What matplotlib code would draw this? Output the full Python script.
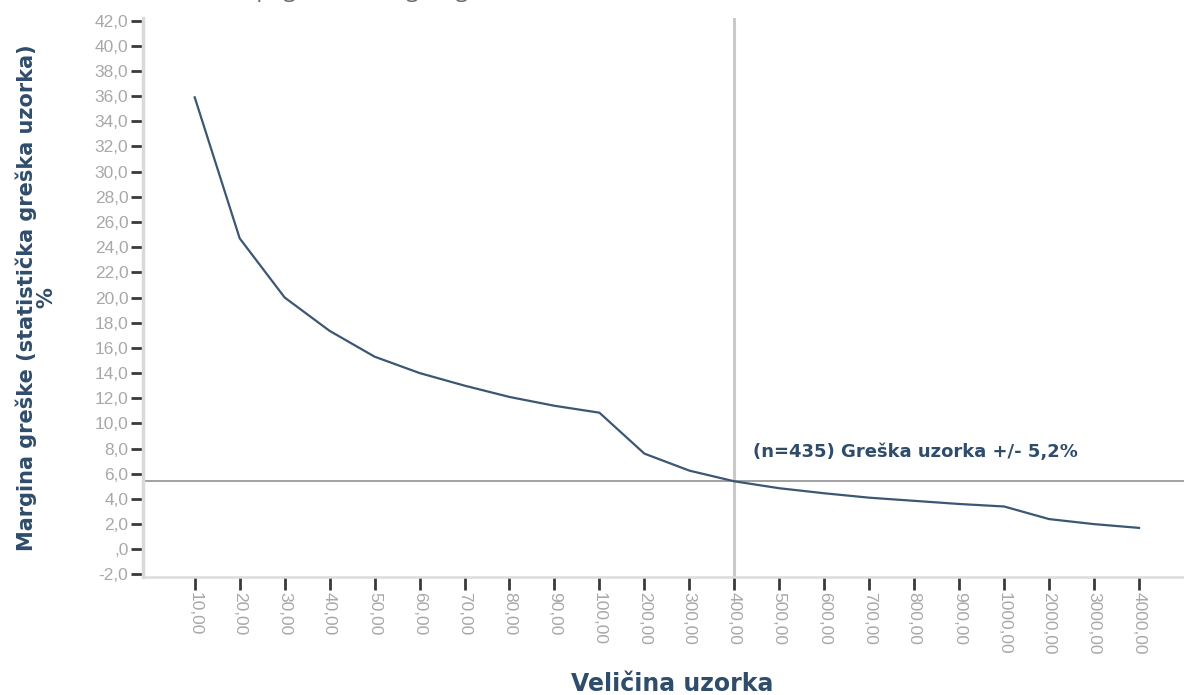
import numpy as np
import matplotlib.pyplot as plt

# sample sizes (categorical axis) and margin of error in %
sizes = ["10,00", "20,00", "30,00", "40,00", "50,00", "60,00", "70,00", "80,00",
         "90,00", "100,00", "200,00", "300,00", "400,00", "500,00", "600,00",
         "700,00", "800,00", "900,00", "1000,00", "2000,00", "3000,00", "4000,00"]
margin = [35.9, 24.7, 20.0, 17.35, 15.3, 14.0, 13.0, 12.1, 11.4, 10.85, 7.6,
          6.25, 5.4, 4.85, 4.45, 4.1, 3.85, 3.6, 3.4, 2.4, 2.0, 1.7]

yticks = np.arange(-2, 43, 2)
ref_index = 12      # 400 -> n=435
ref_margin = 5.4

navy = "#2f4c6b"
line_col = "#3b5773"
grey_txt = "#a8a8a8"

fig = plt.figure(figsize=(11.84, 6.95), dpi=100)
ax = fig.add_axes([143 / 1184, 1 - 577 / 695, 1 - 143 / 1184, (577 - 18) / 695])

x = np.arange(len(sizes))
ax.plot(x, margin, color=line_col, lw=1.6, zorder=3)
ax.axvline(ref_index, color="#c9c9c9", lw=2.2, zorder=2)
ax.axhline(ref_margin, color="#9a9a9a", lw=1.3, zorder=2)

ax.text(ref_index + 0.42, ref_margin + 2.35, "(n=435) Greška uzorka +/- 5,2%",
        color=navy, fontsize=13, fontweight="bold", family="DejaVu Sans",
        va="center", ha="left")

ax.set_xlim(-1.15, 22)
ax.set_ylim(-2.2, 42.2)

ax.set_yticks(yticks)
ylabels = [("%.1f" % v).replace(".", ",") for v in yticks]
ylabels = [",0" if v == 0 else s for v, s in zip(yticks, ylabels)]
ax.set_yticklabels(ylabels, family="Liberation Sans", fontsize=12.5, color=grey_txt)
ax.set_xticks(x)
ax.set_xticklabels(sizes, rotation=270, family="Liberation Sans",
                   fontsize=12.5, color=grey_txt, va="top", ha="center")

ax.tick_params(axis="both", direction="out", color="#3a3a3a", width=2.0, length=9)
ax.tick_params(axis="y", pad=1.5)
ax.tick_params(axis="x", pad=1.5)

for s in ["top", "right"]:
    ax.spines[s].set_visible(False)
ax.spines["left"].set_color("#d9d9d9")
ax.spines["left"].set_linewidth(2.5)
ax.spines["bottom"].set_color("#dcdcdc")
ax.spines["bottom"].set_linewidth(1.8)

fig.text(36 / 1184, 1 - 298 / 695, "Margina greške (statistička greška uzorka)\n%",
         rotation=90, ha="center", va="center", multialignment="center",
         color=navy, fontsize=15, fontweight="bold", family="DejaVu Sans",
         linespacing=0.95)
fig.text(672 / 1184, 1 - 684 / 695, "Veličina uzorka", ha="center", va="center",
         color=navy, fontsize=17, fontweight="bold", family="DejaVu Sans")

# title cut off by the top edge, only descenders show
fig.text(68 / 1184, 1 + 3 / 695,
         "Slika 1. Statistička pogreška (margina greške uzorka) u odnosu na veličinu uzorka",
         ha="left", va="baseline", color="#6a6a6a", fontsize=16, family="Open Sans")

fig.savefig("out.png", dpi=100)
